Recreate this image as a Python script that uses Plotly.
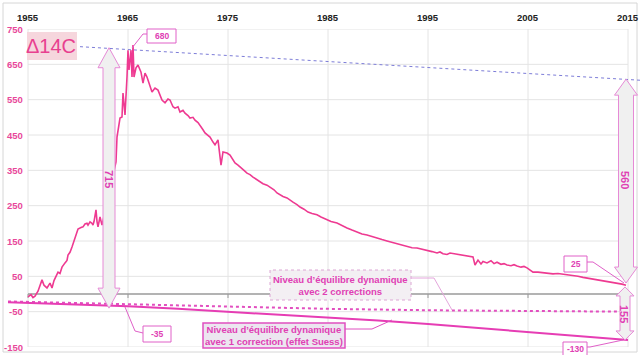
import plotly.graph_objects as go

# ---------------- data ----------------
years = [1955.0, 1955.3, 1955.5, 1955.7, 1956.0, 1956.3, 1956.4, 1956.6, 1956.9, 1957.2, 1957.4, 1957.6,
         1957.7, 1958.0, 1958.2, 1958.4, 1958.7, 1958.9, 1959.0, 1959.2, 1959.4, 1959.7, 1959.9, 1960.0,
         1960.3, 1960.5, 1960.7, 1960.9, 1961.0, 1961.2, 1961.4, 1961.5, 1961.6, 1961.8, 1961.9, 1962.0,
         1962.2, 1962.4,
         1963.8, 1963.9, 1964.2, 1964.4, 1964.5, 1964.7, 1964.9, 1965.0, 1965.1, 1965.3, 1965.4, 1965.5,
         1965.6, 1965.8, 1966.0, 1966.3, 1966.5, 1966.7, 1966.9, 1967.1, 1967.4, 1967.7, 1968.0, 1968.4,
         1968.7, 1969.0, 1969.2, 1969.5, 1969.7, 1970.0, 1970.2, 1970.5, 1970.7, 1971.0, 1971.2, 1971.5,
         1971.7, 1972.0, 1972.2, 1972.5, 1972.7, 1973.0, 1973.2, 1973.5, 1973.7, 1974.0, 1974.3, 1974.5,
         1974.9, 1975.2, 1975.5, 1975.7, 1976.0, 1976.2, 1976.6, 1976.9, 1977.2, 1977.5, 1977.8, 1978.2,
         1978.5, 1978.9, 1979.2, 1979.6, 1979.9, 1980.2, 1980.5, 1980.9, 1981.2, 1981.5, 1981.9, 1982.2,
         1982.6, 1983.0, 1983.4, 1983.9, 1984.3, 1984.9, 1985.3, 1985.9, 1986.3, 1986.9, 1987.4, 1987.9,
         1988.4, 1988.9, 1989.4, 1989.9, 1990.4, 1990.9, 1991.4, 1991.9, 1992.4, 1992.9, 1993.4, 1993.9,
         1994.4, 1994.9, 1995.4, 1995.9, 1996.2, 1996.5, 1996.9, 1997.2, 1999.5, 1999.7, 2000.0, 2000.3,
         2000.5, 2000.9, 2001.3, 2001.6, 2001.9, 2002.3, 2002.6, 2002.9, 2003.3, 2003.6, 2003.9, 2004.3,
         2004.6, 2004.9, 2005.2, 2005.5, 2006.0, 2006.5, 2006.9, 2007.5, 2008.0, 2008.5, 2009.0, 2009.5,
         2010.0, 2010.5, 2010.9, 2011.5, 2012.0, 2012.5, 2013.0, 2013.5, 2014.0, 2014.4, 2014.8]
d14c = [-8, -2, -10, -6, 8, 30, 40, 25, 17, 31, 17, 38,
        45, 62, 58, 76, 88, 95, 110, 118, 133, 161, 175, 184,
        188, 190, 198, 200, 195, 204, 200, 195, 205, 238, 205, 190,
        218, 195,
        374, 444, 498, 501, 569, 507, 614, 690, 634, 690, 614, 705,
        614, 640, 648, 628, 597, 625, 614, 597, 572, 583, 577, 549,
        541, 552, 549, 530, 526, 530, 515, 520, 512, 505, 498, 500,
        492, 485, 478, 465, 456, 450, 444, 430, 422, 436, 365, 402,
        399, 393, 380, 371, 365, 359, 350, 342, 338, 331, 325, 317,
        312, 308, 303, 295, 286, 280, 276, 272, 265, 260, 253, 246,
        240, 232, 228, 224, 218, 209, 205, 201, 195, 187, 181, 175,
        170, 167, 162, 158, 154, 150, 146, 142, 137, 133, 131, 130,
        127, 125, 120, 116, 119, 114, 112, 116, 105, 82, 96, 85,
        92, 88, 94, 86, 90, 84, 86, 82, 80, 83, 79, 76,
        78, 74, 68, 62, 62, 60, 59, 57, 58, 56, 55, 54,
        50, 47, 45, 42, 40, 37, 36, 34, 31, 28, 25]

ref_years = [1960.2, 2016.2]          # pre-bomb reference level (dotted blue)
ref_vals = [700, 605]

eq2_years = [1953.0, 1965, 1975, 1985, 1995, 2005, 2015]   # 2 corrections
eq2_vals = [-21, -29, -37, -42, -46, -49, -50]

eq1_years = [1953.0, 1960, 1965, 1970, 1975, 1980, 1985, 1990, 1995, 2000, 2005, 2010, 2015]  # Suess
eq1_vals = [-23, -29, -35, -42, -50, -58, -66, -75, -85, -96, -107, -118, -130]

x_ticks = [1955, 1965, 1975, 1985, 1995, 2005, 2015]
y_ticks = [750, 650, 550, 450, 350, 250, 150, 50, -50, -150]

# ---------------- geometry helpers ----------------
W, H = 640, 355
ML, MR, MT, MB = 5, 0, 29, 8
PW, PH = W - ML - MR, H - MT - MB
XR = [1952.7, 2016.2]
YR = [-150, 750]
PYU = PH / (YR[1] - YR[0])


def PX(px):  # pixel -> paper x
    return (px - ML) / PW


def PY(py):  # pixel -> paper y
    return (H - MB - py) / PH


PINK = "#ee3a91"
MAG = "#e040b4"
FONT = "Arial, Liberation Sans, sans-serif"

fig = go.Figure()
fig.add_trace(go.Scatter(x=ref_years, y=ref_vals, mode="lines",
                         line=dict(color="#7d7dd8", width=1, dash="dot"), hoverinfo="skip"))
fig.add_trace(go.Scatter(x=eq2_years, y=eq2_vals, mode="lines",
                         line=dict(color="#e24fc0", width=2, dash="dot"), hoverinfo="skip"))
fig.add_trace(go.Scatter(x=eq1_years, y=eq1_vals, mode="lines",
                         line=dict(color="#e63db4", width=2), hoverinfo="skip"))
fig.add_trace(go.Scatter(x=years, y=d14c, mode="lines",
                         line=dict(color=PINK, width=1.6), hoverinfo="skip"))

shapes = []
# grid
for yv in y_ticks:
    shapes.append(dict(type="line", xref="x", yref="y", x0=x_ticks[0], x1=x_ticks[-1], y0=yv, y1=yv,
                       line=dict(color="#e4e4e4", width=1), layer="below"))
for xv in x_ticks:
    shapes.append(dict(type="line", xref="x", yref="y", x0=xv, x1=xv, y0=YR[0], y1=YR[1],
                       line=dict(color="#e4e4e4", width=1), layer="below"))
# zero line with small ticks
shapes.append(dict(type="line", xref="x", yref="y", x0=x_ticks[0], x1=x_ticks[-1], y0=0, y1=0,
                   line=dict(color="#9a9a9a", width=1.3), layer="below"))
for xv in x_ticks:
    shapes.append(dict(type="line", xref="x", yref="y", x0=xv, x1=xv, y0=0, y1=-4 / PYU,
                       line=dict(color="#9a9a9a", width=1), layer="below"))

# outer frame
shapes.append(dict(type="rect", xref="paper", yref="paper",
                   x0=PX(3), x1=PX(637), y0=PY(352), y1=PY(3),
                   line=dict(color="#d6d6d6", width=1), layer="below"))


def block_arrow(xc, y_top, y_bot, head_w, shaft_w, head_px):
    hh = head_px / PYU
    p = (f"M0,{y_top} L{head_w},{y_top - hh} L{shaft_w},{y_top - hh} L{shaft_w},{y_bot + hh} "
         f"L{head_w},{y_bot + hh} L0,{y_bot} L{-head_w},{y_bot + hh} L{-shaft_w},{y_bot + hh} "
         f"L{-shaft_w},{y_top - hh} L{-head_w},{y_top - hh} Z")
    return dict(type="path", xref="x", yref="y", xsizemode="pixel", xanchor=xc, path=p,
                fillcolor="#f0f0f0", line=dict(color="#e68ad6", width=1), layer="above")


shapes.append(block_arrow(1963.1, 697, -40, 11, 6, 20))
shapes.append(block_arrow(2014.8, 608, 31, 11.5, 7.5, 16))
shapes.append(block_arrow(2014.7, 20, -130, 9, 5, 9))


def box(x0, y0, x1, y1, fill, color, width=1, dash="solid"):
    return dict(type="rect", xref="paper", yref="paper", x0=PX(x0), x1=PX(x1), y0=PY(y1), y1=PY(y0),
                fillcolor=fill, line=dict(color=color, width=width, dash=dash), layer="above")


def leader(pts, color, width=1):
    p = "M" + " L".join(f"{PX(a)},{PY(b)}" for a, b in pts)
    return dict(type="path", xref="paper", yref="paper", path=p, line=dict(color=color, width=width),
                layer="above")


shapes.append(box(27, 32, 77, 60, "#f6d6dd", "rgba(0,0,0,0)", 0))
shapes.append(box(147, 29, 176, 43, "white", "#e060c8"))
shapes.append(leader([(147, 34), (143, 34), (132, 48)], "#e060c8"))
shapes.append(box(143, 326, 171, 342, "white", "#e060c8"))
shapes.append(leader([(143, 333), (135, 331), (125, 307)], "#e060c8"))
shapes.append(box(564, 256, 587, 272, "white", "#e060c8"))
shapes.append(leader([(587, 262), (593, 262), (624, 283)], "#e060c8"))
shapes.append(box(563, 342, 587, 357, "white", "#e060c8"))
shapes.append(leader([(587, 347), (590, 347), (623, 340)], "#e060c8"))
shapes.append(box(270, 270, 411, 300, "#f3eff3", "#dca6d4", 1, "dot"))
shapes.append(leader([(411, 278), (434, 278), (452, 310)], "#e4a6dc"))
shapes.append(box(203, 323, 345, 348, "#ece6f0", "#e050c0", 1.5))
shapes.append(leader([(345, 329), (372, 329), (392, 320)], "#e050c0"))

ann = []
for yv in y_ticks:
    ann.append(dict(x=1955, y=yv, xref="x", yref="y", text=str(yv), showarrow=False,
                    xanchor="right", xshift=-3,
                    font=dict(family=FONT, size=9.5, color="#e8479a", weight="bold")))
for xv in x_ticks:
    ann.append(dict(x=xv, y=PY(18), xref="x", yref="paper", text=str(xv), showarrow=False,
                    xanchor="center", yanchor="middle",
                    font=dict(family=FONT, size=9.5, color="#222", weight="bold")))


def label(px, py, text, size=8.5, color=MAG, angle=0, weight="bold"):
    ann.append(dict(x=PX(px), y=PY(py), xref="paper", yref="paper", text=text, showarrow=False,
                    xanchor="center", yanchor="middle", textangle=angle,
                    font=dict(family=FONT, size=size, color=color, weight=weight)))


label(51, 46, "Δ14C", size=20, color="#e8408f", weight="normal")
label(161.5, 36, "680")
label(157, 334, "-35")
label(575.5, 264, "25")
label(575, 349, "-130")
label(340.5, 285, "Niveau d’équilibre dynamique<br>avec 2 corrections", size=9.5)
label(274, 335.5, "Niveau d’équilibre dynamique<br>avec 1 correction (effet Suess)", size=9.5)
label(109, 179, "715", size=11, angle=90)
label(625, 180, "560", size=11, angle=90)
label(624, 314, "155", size=11, angle=90)

fig.update_layout(
    width=W, height=H, margin=dict(l=ML, r=MR, t=MT, b=MB),
    paper_bgcolor="white", plot_bgcolor="white", showlegend=False,
    shapes=shapes, annotations=ann,
    xaxis=dict(range=XR, showgrid=False, zeroline=False, showline=False, showticklabels=False),
    yaxis=dict(range=YR, showgrid=False, zeroline=False, showline=False, showticklabels=False),
)
fig.write_html("out.html", config={"displayModeBar": False},
               post_script="document.body.style.margin='0';document.body.style.overflow='hidden';")
